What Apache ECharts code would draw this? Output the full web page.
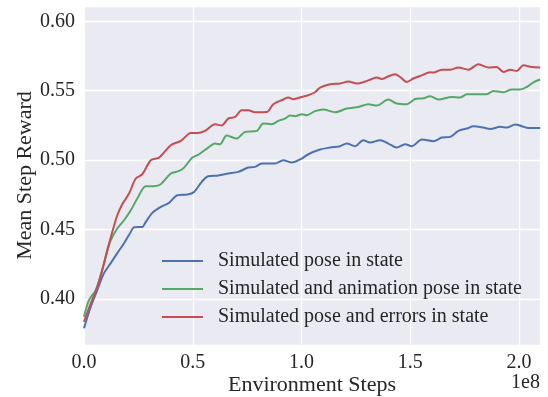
<!DOCTYPE html>
<html><head><meta charset="utf-8">
<script src="https://cdn.jsdelivr.net/npm/echarts@6/dist/echarts.min.js"></script>
<style>html,body{margin:0;padding:0;background:#fff}#c{width:548px;height:397px}</style>
</head><body><div id="c"></div>
<script>
const seriesNames = ['Simulated pose in state','Simulated and animation pose in state','Simulated pose and errors in state'];
const xTickLabels = ['0.0','0.5','1.0','1.5','2.0'];
const yTickLabels = ['0.40','0.45','0.50','0.55','0.60'];
// x in units of 1e8 environment steps
const blueX = [0,0.031,0.061,0.092,0.123,0.153,0.184,0.215,0.230,0.268,0.284,0.314,0.353,0.391,0.429,0.475,0.506,0.541,0.571,0.617,0.663,0.709,0.755,0.786,0.817,0.878,0.916,0.955,1.001,1.031,1.085,1.131,1.177,1.208,1.246,1.284,1.315,1.361,1.399,1.438,1.476,1.507,1.553,1.606,1.645,1.683,1.721,1.760,1.790,1.836,1.867,1.913,1.943,1.982,2.012,2.043,2.097];
const blueY = [0.379,0.3945,0.4065,0.4187,0.4259,0.4331,0.4403,0.4484,0.4518,0.4520,0.4556,0.4621,0.4664,0.4693,0.4748,0.4753,0.4772,0.4844,0.4885,0.4890,0.4904,0.4916,0.4947,0.4952,0.4976,0.4976,0.5000,0.4983,0.5012,0.5043,0.5077,0.5091,0.5101,0.5120,0.5101,0.5144,0.5127,0.5144,0.5120,0.5091,0.5115,0.5101,0.5149,0.5137,0.5163,0.5168,0.5211,0.5228,0.5245,0.5235,0.5225,0.5240,0.5235,0.5257,0.5245,0.5232,0.5232];
const greenX = [0,0.023,0.054,0.077,0.100,0.123,0.153,0.184,0.215,0.245,0.284,0.322,0.353,0.399,0.437,0.460,0.498,0.529,0.571,0.602,0.625,0.656,0.702,0.740,0.794,0.824,0.863,0.893,0.924,0.947,0.970,1.001,1.024,1.062,1.100,1.154,1.208,1.261,1.307,1.346,1.399,1.438,1.484,1.522,1.560,1.591,1.629,1.691,1.729,1.760,1.813,1.852,1.882,1.928,1.966,2.005,2.035,2.066,2.097];
const greenY = [0.3873,0.3993,0.4065,0.4173,0.4304,0.4424,0.4509,0.4568,0.4640,0.4724,0.4813,0.4813,0.4827,0.4904,0.4923,0.4947,0.5019,0.5043,0.5091,0.5120,0.5115,0.5178,0.5156,0.5204,0.5211,0.5264,0.5259,0.5283,0.5300,0.5322,0.5317,0.5331,0.5324,0.5353,0.5365,0.5345,0.5372,0.5383,0.5403,0.5393,0.5437,0.5408,0.5403,0.5441,0.5446,0.5460,0.5437,0.5455,0.5451,0.5475,0.5475,0.5475,0.5499,0.5489,0.5509,0.5509,0.5527,0.5561,0.5581];
const redX = [0,0.031,0.061,0.084,0.107,0.130,0.153,0.176,0.207,0.238,0.268,0.307,0.345,0.399,0.445,0.491,0.521,0.556,0.602,0.633,0.663,0.694,0.725,0.755,0.786,0.840,0.870,0.916,0.939,0.962,1.001,1.031,1.062,1.085,1.131,1.177,1.215,1.254,1.292,1.323,1.346,1.369,1.392,1.430,1.453,1.484,1.514,1.553,1.591,1.606,1.645,1.683,1.721,1.767,1.813,1.859,1.897,1.928,1.959,1.989,2.020,2.058,2.097];
const redY = [0.3837,0.3969,0.4088,0.4209,0.4353,0.4484,0.4604,0.4683,0.4760,0.4868,0.4899,0.5000,0.5019,0.5108,0.5139,0.5196,0.5196,0.5211,0.5259,0.5250,0.5300,0.5311,0.5360,0.5360,0.5345,0.5347,0.5403,0.5437,0.5451,0.5439,0.5455,0.5468,0.5489,0.5523,0.5547,0.5552,0.5566,0.5552,0.5566,0.5585,0.5595,0.5585,0.5599,0.5619,0.5599,0.5563,0.5588,0.5611,0.5633,0.5631,0.5652,0.5652,0.5667,0.5652,0.5691,0.5667,0.5671,0.5635,0.5652,0.5642,0.5683,0.5671,0.5667];
const colors = ['#4C72B0','#55A868','#C44E52'];

const zip = (xs, ys) => xs.map((x, i) => [x, ys[i]]);
const font = '"Liberation Serif", "Times New Roman", serif';
const txt = '#262626';
const chart = echarts.init(document.getElementById('c'), null, {renderer: 'canvas'});
chart.setOption({
  animation: false,
  textStyle: {fontFamily: font},
  grid: {left: 84, right: 8, top: 6, bottom: 52, show: true, backgroundColor: '#EAEAF2', borderWidth: 0, containLabel: false, outerBoundsMode: 'none'},
  xAxis: {
    type: 'value', min: 0, max: 2.096,
    name: 'Environment Steps', nameLocation: 'middle', nameGap: 29, nameMoveOverlap: false,
    nameTextStyle: {fontFamily: font, fontSize: 22, color: txt},
    axisLine: {show: false}, axisTick: {show: false},
    axisLabel: {fontFamily: font, fontSize: 20, color: txt, margin: 8, showMaxLabel: false,
      formatter: v => { const i = Math.round(v / 0.5); return Math.abs(v - i * 0.5) < 1e-6 ? xTickLabels[i] : ''; }},
    splitLine: {show: true, lineStyle: {color: '#ffffff', width: 1.3}}
  },
  yAxis: {
    type: 'value', min: 0.367, max: 0.611,
    name: 'Mean Step Reward', nameLocation: 'middle', nameGap: 48, nameMoveOverlap: false,
    nameTextStyle: {fontFamily: font, fontSize: 22, color: txt},
    axisLine: {show: false}, axisTick: {show: false},
    axisLabel: {fontFamily: font, fontSize: 20, color: txt, margin: 9, showMinLabel: false, showMaxLabel: false,
      formatter: v => { const i = Math.round((v - 0.40) / 0.05); return (i >= 0 && i < yTickLabels.length && Math.abs(v - 0.40 - i * 0.05) < 1e-6) ? yTickLabels[i] : ''; }},
    splitLine: {show: true, lineStyle: {color: '#ffffff', width: 1.3}}
  },
  legend: {
    orient: 'vertical', left: 157, top: 246, itemWidth: 41, itemHeight: 14, itemGap: 8,
    icon: 'path://M0,6L41,6L41,8L0,8Z',
    textStyle: {fontFamily: font, fontSize: 20, color: txt, padding: [0, 0, 0, 10]},
    data: seriesNames
  },
  graphic: [{type: 'text', right: 8, top: 373, style: {text: '1e8', font: '20px ' + font, fill: txt}}],
  series: [
    {name: seriesNames[0], type: 'line', data: zip(blueX, blueY), showSymbol: false, symbol: 'none', smooth: 0.3, lineStyle: {color: colors[0], width: 2}, itemStyle: {color: colors[0]}},
    {name: seriesNames[1], type: 'line', data: zip(greenX, greenY), showSymbol: false, symbol: 'none', smooth: 0.3, lineStyle: {color: colors[1], width: 2}, itemStyle: {color: colors[1]}},
    {name: seriesNames[2], type: 'line', data: zip(redX, redY), showSymbol: false, symbol: 'none', smooth: 0.3, lineStyle: {color: colors[2], width: 2}, itemStyle: {color: colors[2]}}
  ]
});
</script></body></html>
